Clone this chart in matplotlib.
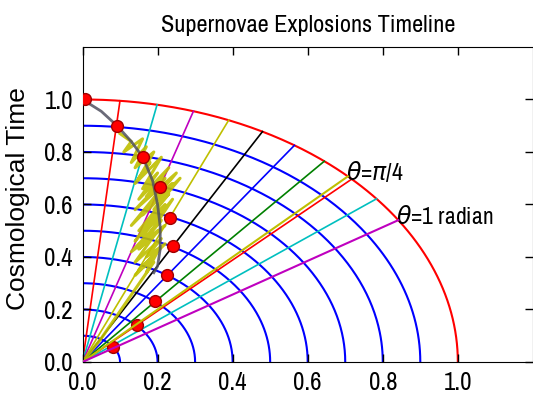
import matplotlib
matplotlib.use("Agg")
import matplotlib.pyplot as plt
import numpy as np

# concentric shells (radius) and their colours
shell_radii = [0.1, 0.2, 0.3, 0.4, 0.5, 0.6, 0.7, 0.8, 0.9, 1.0]
shell_colors = ['b', 'b', 'b', 'b', 'b', 'b', 'b', 'b', 'b', 'r']

# radial spokes, angle measured from the vertical axis (radians)
spoke_angles = [0.1, 0.2, 0.3, 0.4, 0.5, 0.6, 0.7, 0.8, 0.9]
spoke_colors = ['r', 'c', 'm', 'y', 'k', 'b', 'g', 'r', 'c']

# marked angles (from vertical) with their labels
marked_angles = [np.pi / 4, 1.0]
marked_colors = ['y', 'm']
marked_labels = [r'$\theta$=$\pi$/4', r'$\theta$=1 radian']

# supernova events
sn_x = [0.007, 0.092, 0.161, 0.207, 0.234, 0.242, 0.224, 0.194, 0.145, 0.080]
sn_y = [1.000, 0.898, 0.781, 0.667, 0.550, 0.441, 0.331, 0.233, 0.141, 0.058]

# smooth track
track_x = [0.0, 0.05, 0.092, 0.13, 0.161, 0.187, 0.200, 0.207, 0.207, 0.200, 0.190]
track_y = [1.0, 0.955, 0.900, 0.84, 0.780, 0.690, 0.600, 0.515, 0.430, 0.365, 0.340]

# noisy track
noisy_x = [0.10, 0.13, 0.11, 0.16, 0.13, 0.17, 0.14, 0.19, 0.15, 0.18, 0.14, 0.21, 0.16,
           0.20, 0.15, 0.23, 0.17, 0.22, 0.14, 0.25, 0.18, 0.21, 0.13, 0.24, 0.16, 0.26,
           0.19, 0.23, 0.15, 0.22, 0.14, 0.20, 0.16, 0.24, 0.17, 0.21, 0.13, 0.22, 0.15,
           0.20, 0.14, 0.21, 0.17, 0.22, 0.15, 0.20, 0.17, 0.19, 0.14, 0.21, 0.16, 0.19,
           0.05, 0.0]
noisy_y = [0.87, 0.84, 0.80, 0.85, 0.76, 0.82, 0.74, 0.80, 0.70, 0.76, 0.68, 0.78, 0.66,
           0.72, 0.62, 0.74, 0.63, 0.70, 0.58, 0.72, 0.60, 0.66, 0.52, 0.68, 0.56, 0.70,
           0.58, 0.64, 0.50, 0.60, 0.46, 0.58, 0.48, 0.62, 0.47, 0.54, 0.42, 0.52, 0.43,
           0.50, 0.38, 0.47, 0.40, 0.45, 0.35, 0.42, 0.34, 0.40, 0.33, 0.44, 0.36, 0.38,
           0.09, 0.0]

x_ticks = [0.0, 0.2, 0.4, 0.6, 0.8, 1.0]
y_ticks = [0.0, 0.2, 0.4, 0.6, 0.8, 1.0]

narrow = ['Archivo Narrow', 'DejaVu Sans']

fig = plt.figure(figsize=(5.33, 4.04), dpi=100)
ax = fig.add_axes([0.1548, 0.104, 0.845, 0.7797])

phi = np.linspace(0, np.pi / 2, 200)
for r, c in zip(shell_radii, shell_colors):
    ax.plot(r * np.cos(phi), r * np.sin(phi), color=c, lw=1.5, zorder=1)

for a, c in zip(spoke_angles, spoke_colors):
    ax.plot([0, np.sin(a)], [0, np.cos(a)], color=c, lw=1.2, zorder=1)

ax.plot(noisy_x, noisy_y, color='y', lw=2.2, alpha=0.9, zorder=2)
ax.plot(track_x, track_y, color='#505060', lw=2, alpha=0.85, zorder=3)
ax.plot(sn_x, sn_y, 'o', color='r', markeredgecolor='#a00000', markersize=8.5, zorder=4)

# marked spokes go on top of the events
for a, c, lab in zip(marked_angles, marked_colors, marked_labels):
    ax.plot([0, np.sin(a)], [0, np.cos(a)], color=c, lw=1.5, zorder=5)
    ax.text(np.sin(a) - 0.005, np.cos(a) - 0.03, lab, fontsize=17, family=narrow,
            ha='left', va='bottom')

ax.set_xlim(0, 1.2)
ax.set_ylim(0, 1.2)
ax.set_xticks(x_ticks)
ax.set_yticks(y_ticks)
ax.set_xticklabels([f'{v:.1f}' for v in x_ticks])
ax.set_yticklabels([f'{v:.1f}' for v in y_ticks])
ax.tick_params(direction='in', top=True, right=True, length=6, width=1,
               labelsize=18, labelfontfamily=narrow)
ax.tick_params(axis='x', pad=6.5)
ax.tick_params(axis='y', pad=7)

ax.set_title('Supernovae Explosions Timeline', fontsize=17.5, family=narrow, pad=11)
ax.set_ylabel('Cosmological Time', fontsize=19, family=['Liberation Sans', 'DejaVu Sans'])
ax.yaxis.set_label_coords(-0.1165, 0.52)

fig.savefig('out.png', dpi=100)
